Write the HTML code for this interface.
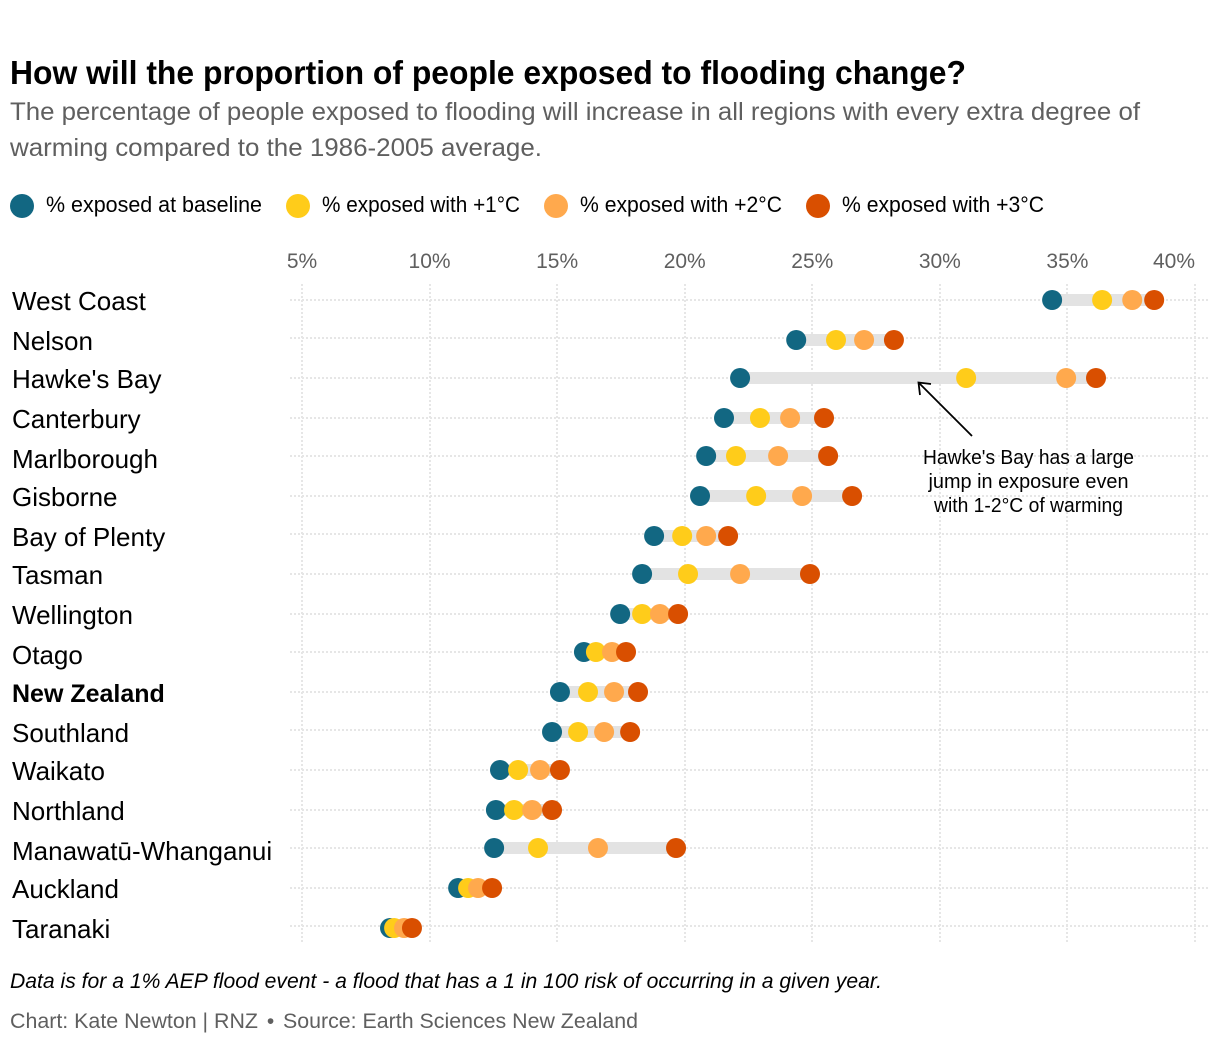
<!DOCTYPE html>
<html lang="en">
<head>
<meta charset="utf-8">
<title>How will the proportion of people exposed to flooding change?</title>
<style>
html,body{margin:0;padding:0;background:#fff;}
body{width:1220px;height:1048px;overflow:hidden;}
svg{display:block;font-family:"Liberation Sans",sans-serif;}
</style>
</head>
<body>
<svg id="chart" xmlns="http://www.w3.org/2000/svg" width="1220" height="1048" viewBox="0 0 1220 1048">
  <text x="10" y="84" font-size="33" font-weight="700" fill="#000" textLength="956" lengthAdjust="spacingAndGlyphs">How will the proportion of people exposed to flooding change?</text>
  <text x="10" y="120" font-size="25" fill="#5f5f5f" textLength="1130" lengthAdjust="spacingAndGlyphs">The percentage of people exposed to flooding will increase in all regions with every extra degree of</text>
  <text x="10" y="156" font-size="25" fill="#5f5f5f" textLength="532" lengthAdjust="spacingAndGlyphs">warming compared to the 1986-2005 average.</text>

  <g>
    <circle cx="22" cy="206" r="12" fill="#126782"/>
    <text x="46" y="212" font-size="22" fill="#000" textLength="216" lengthAdjust="spacingAndGlyphs">% exposed at baseline</text>
    <circle cx="298" cy="206" r="12" fill="#ffcc1a"/>
    <text x="322" y="212" font-size="22" fill="#000" textLength="198" lengthAdjust="spacingAndGlyphs">% exposed with +1°C</text>
    <circle cx="556" cy="206" r="12" fill="#ffa94d"/>
    <text x="580" y="212" font-size="22" fill="#000" textLength="202" lengthAdjust="spacingAndGlyphs">% exposed with +2°C</text>
    <circle cx="818" cy="206" r="12" fill="#d94f00"/>
    <text x="842" y="212" font-size="22" fill="#000" textLength="202" lengthAdjust="spacingAndGlyphs">% exposed with +3°C</text>
  </g>

  <g id="grid"></g>
  <g id="xaxis"></g>
  <g id="yaxis"></g>
  <g id="marks"></g>

  <g>
    <path d="M972 436L919 383M931 384L918.500 382.500L920 395" fill="none" stroke="#000" stroke-width="1.800"/>
    <text x="1028.500" y="464" font-size="20" fill="#000" text-anchor="middle" textLength="211" lengthAdjust="spacingAndGlyphs">Hawke's Bay has a large</text>
    <text x="1028.500" y="488" font-size="20" fill="#000" text-anchor="middle" textLength="200" lengthAdjust="spacingAndGlyphs">jump in exposure even</text>
    <text x="1028.500" y="512" font-size="20" fill="#000" text-anchor="middle" textLength="189" lengthAdjust="spacingAndGlyphs">with 1-2°C of warming</text>
  </g>

  <text x="10" y="988" font-size="21" font-style="italic" fill="#000" textLength="872" lengthAdjust="spacingAndGlyphs">Data is for a 1% AEP flood event - a flood that has a 1 in 100 risk of occurring in a given year.</text>
  <g>
    <text x="10" y="1028" font-size="21" fill="#5f5f5f" textLength="248" lengthAdjust="spacingAndGlyphs">Chart: Kate Newton | RNZ</text>
    <text x="270.500" y="1028" font-size="21" fill="#5f5f5f" text-anchor="middle">•</text>
    <text x="283" y="1028" font-size="21" fill="#5f5f5f" textLength="355" lengthAdjust="spacingAndGlyphs">Source: Earth Sciences New Zealand</text>
  </g>
</svg>

<script>
const categories = ["West Coast","Nelson","Hawke's Bay","Canterbury","Marlborough","Gisborne","Bay of Plenty","Tasman","Wellington","Otago","New Zealand","Southland","Waikato","Northland","Manawatū-Whanganui","Auckland","Taranaki"];
const baseline = [34.40,24.37,22.17,21.54,20.84,20.60,18.80,18.33,17.47,16.05,15.11,14.80,12.76,12.60,12.53,11.12,8.45];
const plus1 = [36.36,25.93,31.03,22.95,22.01,22.80,19.90,20.13,18.33,16.52,16.21,15.82,13.47,13.31,14.25,11.51,8.61];
const plus2 = [37.54,27.03,34.95,24.13,23.66,24.60,20.84,22.17,19.03,17.15,17.23,16.84,14.33,14.02,16.60,11.90,9.00];
const plus3 = [38.40,28.20,36.12,25.46,25.62,26.56,21.70,24.91,19.74,17.70,18.17,17.86,15.11,14.80,19.66,12.45,9.31];
const tickValues = [5,10,15,20,25,30,35,40];
const tickLabels = ["5%","10%","15%","20%","25%","30%","35%","40%"];
const highlightCategory = "New Zealand";

const NS = "http://www.w3.org/2000/svg";
function xScale(v){ return 302 + (v - 5) * (1195 - 302) / 35; }
function dotY(i){ return 2 * Math.round((300 + i * 39.2) / 2); }
function labelY(i){ return 2 * Math.round((300.4 + i * 39.2) / 2) + 10; }
function gridY(i){ return 2 * Math.floor((300.4 + i * 39.2) / 2); }
function make(tag, parent, props){
  const el = document.createElementNS(NS, tag);
  for (const k in props) el.setAttribute(k, props[k]);
  parent.appendChild(el);
  return el;
}
const grid = document.getElementById("grid");
const xaxis = document.getElementById("xaxis");
const yaxis = document.getElementById("yaxis");
const marks = document.getElementById("marks");

tickValues.forEach(function(v, i){
  const gx = Math.round(xScale(v));
  const gl = make("line", grid, {x1:gx, x2:gx, y1:284, y2:942, stroke:"#e6e6e6", "stroke-width":2, "stroke-dasharray":"2 2"});
  
  
  const isLast = i === tickValues.length - 1;
  const t = make("text", xaxis, {x:xScale(v), y:268, "font-size":21, fill:"#5f5f5f", "text-anchor":isLast ? "end" : "middle"});
  t.textContent = tickLabels[i];
  
  
});

categories.forEach(function(name, i){
  const y = dotY(i);
  const hy = gridY(i);
  const hl = make("line", grid, {x1:290, x2:1208, y1:hy, y2:hy, stroke:"#e6e6e6", "stroke-width":2, "stroke-dasharray":"2 2"});
  
  

  const isBold = name === highlightCategory;
  const label = make("text", yaxis, {x:12, y:labelY(i), "font-size":isBold ? 25 : 26, fill:"#000", "font-weight":isBold ? 700 : 400});
  label.textContent = name;
  
  

  const band = make("line", marks, {x1:xScale(baseline[i]), x2:xScale(plus3[i]), y1:y, y2:y, stroke:"#e3e3e3", "stroke-width":12});
  
  

  const dot0 = make("circle", marks, {cx:xScale(baseline[i]), cy:y, r:10, fill:"#126782"});
  
  
  const dot1 = make("circle", marks, {cx:xScale(plus1[i]), cy:y, r:10, fill:"#ffcc1a"});
  
  
  const dot2 = make("circle", marks, {cx:xScale(plus2[i]), cy:y, r:10, fill:"#ffa94d"});
  
  
  const dot3 = make("circle", marks, {cx:xScale(plus3[i]), cy:y, r:10, fill:"#d94f00"});
  
  
});
</script>
</body>
</html>
